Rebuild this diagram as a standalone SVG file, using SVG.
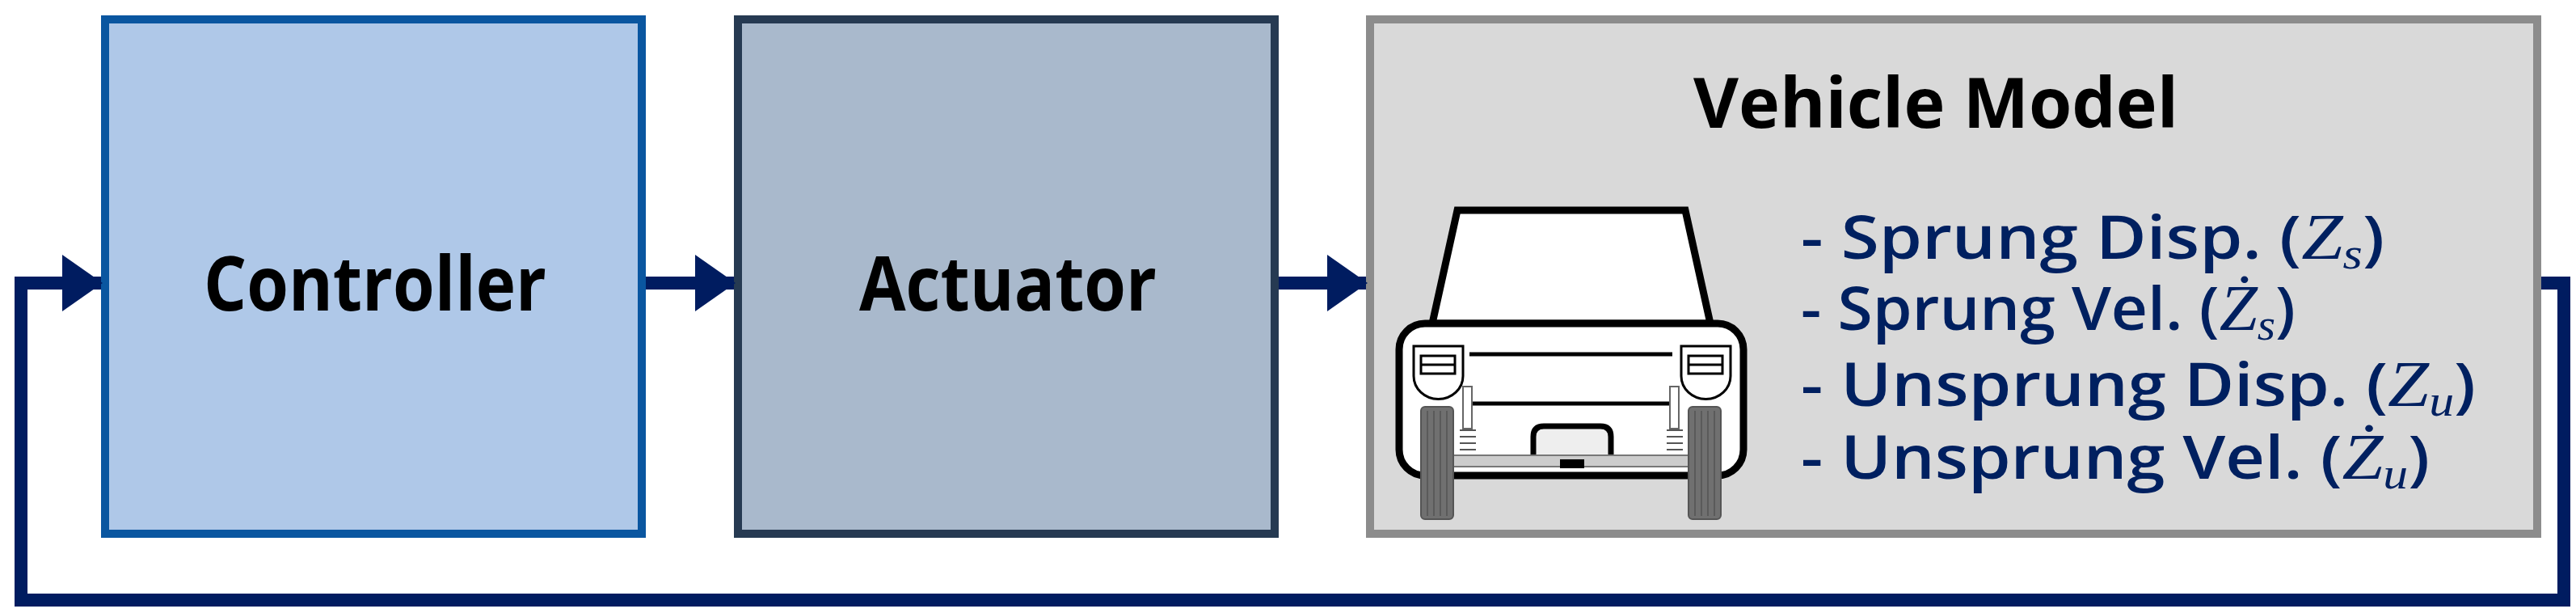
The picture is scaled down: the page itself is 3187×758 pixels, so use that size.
<svg xmlns="http://www.w3.org/2000/svg" width="3187" height="758" viewBox="0 0 3187 758">
<style>
.lbl{font-family:"Open Sans","Noto Sans","Liberation Sans",sans-serif;font-weight:bold;fill:#000}
.it{font-family:"Open Sans","Noto Sans","Liberation Sans",sans-serif;font-weight:600;fill:#002060;font-size:74px}
.m{font-family:"Liberation Serif",serif;font-style:italic;font-weight:normal}
.conn{fill:none;stroke:#001C60;stroke-width:16}
.car{stroke:#000;fill:#fff}
</style>
<defs>
<marker id="ah" markerUnits="userSpaceOnUse" markerWidth="50" markerHeight="70" refX="48" refY="35" orient="auto">
<path d="M0,0 L50,35 L0,70 Z" fill="#001C60"/>
</marker>
</defs>
<g id="controller">
<rect x="130" y="24" width="664" height="636" fill="#AFC8E8" stroke="#0A56A0" stroke-width="10"/>
<text class="lbl" x="252" y="384" font-size="94" textLength="424" lengthAdjust="spacingAndGlyphs">Controller</text>
</g>
<g id="actuator">
<rect x="913" y="24" width="664" height="636" fill="#A9B9CC" stroke="#263A52" stroke-width="10"/>
<text class="lbl" x="1063" y="384" font-size="94" textLength="368" lengthAdjust="spacingAndGlyphs">Actuator</text>
</g>
<g id="vehicle">
<rect x="1695" y="24" width="1444" height="636" fill="#D9D9D9" stroke="#8C8C8C" stroke-width="10"/>
<text class="lbl" x="2095" y="158" font-size="86" textLength="600" lengthAdjust="spacingAndGlyphs">Vehicle Model</text>
<text class="it" x="2228" y="320" textLength="722" lengthAdjust="spacingAndGlyphs">- Sprung Disp. (<tspan class="m" font-size="80">Z</tspan><tspan class="m" font-size="54" dy="12">s</tspan><tspan dy="-12">)</tspan></text>
<text class="it" x="2228" y="408" textLength="612" lengthAdjust="spacingAndGlyphs">- Sprung Vel. (<tspan class="m" font-size="80">Ż</tspan><tspan class="m" font-size="54" dy="12">s</tspan><tspan dy="-12">)</tspan></text>
<text class="it" x="2228" y="502" textLength="835" lengthAdjust="spacingAndGlyphs">- Unsprung Disp. (<tspan class="m" font-size="80">Z</tspan><tspan class="m" font-size="54" dy="12">u</tspan><tspan dy="-12">)</tspan></text>
<text class="it" x="2228" y="592" textLength="778" lengthAdjust="spacingAndGlyphs">- Unsprung Vel. (<tspan class="m" font-size="80">Ż</tspan><tspan class="m" font-size="54" dy="12">u</tspan><tspan dy="-12">)</tspan></text>
<g id="car">
<path class="car" d="M1803,260 L2085,260 L2116,400 L1772,400 Z" stroke-width="9"/>
<rect class="car" x="1731" y="400" width="426" height="188" rx="32" stroke-width="9"/>
<path class="car" d="M1749,428 L1810,428 L1810,465 A30,28 0 0 1 1749,465 Z" stroke-width="3"/>
<rect class="car" x="1758" y="440" width="42" height="22" stroke-width="3"/>
<line x1="1758" y1="451" x2="1800" y2="451" stroke="#000" stroke-width="3"/>
<path class="car" d="M2080,428 L2141,428 L2141,465 A30,28 0 0 1 2080,465 Z" stroke-width="3"/>
<rect class="car" x="2089" y="440" width="42" height="22" stroke-width="3"/>
<line x1="2089" y1="451" x2="2131" y2="451" stroke="#000" stroke-width="3"/>
<line x1="1818" y1="438" x2="2069" y2="438" stroke="#000" stroke-width="5"/>
<line x1="1822" y1="499" x2="2066" y2="499" stroke="#000" stroke-width="5"/>
<rect x="1810" y="478" width="11" height="52" fill="#fff" stroke="#666" stroke-width="2"/>
<rect x="2066" y="478" width="11" height="52" fill="#fff" stroke="#666" stroke-width="2"/>
<path d="M1806,532h20M1806,540h20M1806,548h20M1806,556h20M2062,532h20M2062,540h20M2062,548h20M2062,556h20" stroke="#555" stroke-width="2"/>
<path d="M1897,564 L1897,540 Q1897,527 1910,527 L1980,527 Q1993,527 1993,540 L1993,564" fill="#eee" stroke="#000" stroke-width="7"/>
<rect x="1798" y="563" width="291" height="14" fill="#ccc" stroke="#777" stroke-width="2"/>
<rect x="1930" y="568" width="30" height="11" fill="#000"/>
<rect x="1758" y="503" width="40" height="139" rx="5" fill="#707070" stroke="#555" stroke-width="2"/>
<rect x="2089" y="503" width="40" height="139" rx="5" fill="#707070" stroke="#555" stroke-width="2"/>
<path d="M1766,508v130M1774,508v130M1782,508v130M1790,508v130M2097,508v130M2105,508v130M2113,508v130M2121,508v130" stroke="#5a5a5a" stroke-width="2"/>
</g>
</g>
<g id="connectors">
<line class="conn" x1="799" y1="350" x2="908" y2="350" marker-end="url(#ah)"/>
<line class="conn" x1="1582" y1="350" x2="1690" y2="350" marker-end="url(#ah)"/>
<path class="conn" d="M3144,350 L3172,350 L3172,742 L26,742 L26,350 L125,350" marker-end="url(#ah)"/>
</g>
</svg>
